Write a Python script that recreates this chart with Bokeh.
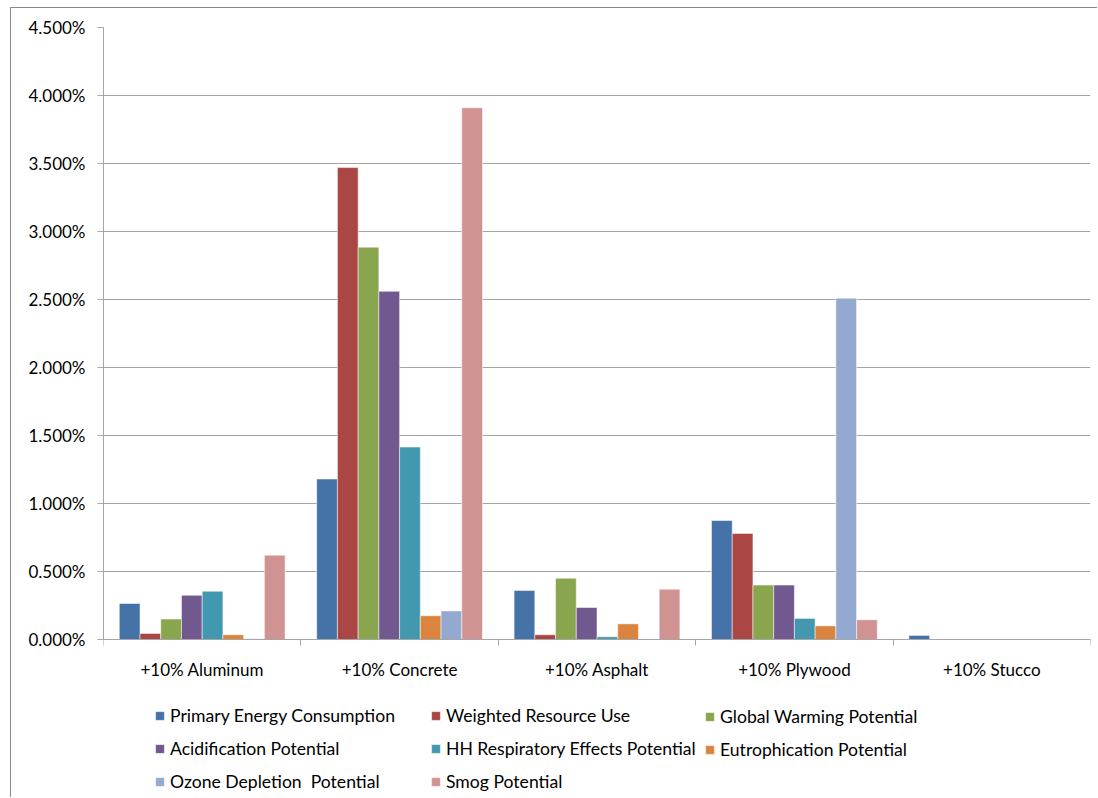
from bokeh.plotting import figure
from bokeh.models import (Range1d, LinearAxis, FixedTicker, Legend, LegendItem,
                          PrintfTickFormatter, ColumnDataSource)
from bokeh.transform import dodge
from bokeh.embed import file_html
from bokeh.resources import INLINE

# Change in each impact indicator (%) when the amount of a material is raised by 10%
categories = ["+10% Aluminum", "+10% Concrete", "+10% Asphalt", "+10% Plywood", "+10% Stucco"]

primary_energy = [0.265, 1.180, 0.360, 0.875, 0.030]
weighted_resource = [0.045, 3.470, 0.035, 0.780, 0.0]
global_warming = [0.150, 2.885, 0.450, 0.400, 0.0]
acidification = [0.325, 2.560, 0.235, 0.400, 0.0]
hh_respiratory = [0.355, 1.415, 0.020, 0.155, 0.0]
eutrophication = [0.035, 0.175, 0.115, 0.100, 0.0]
ozone_depletion = [0.005, 0.210, 0.0, 2.510, 0.0]
smog = [0.620, 3.910, 0.370, 0.145, 0.0]

series_names = ["Primary Energy Consumption", "Weighted Resource Use", "Global Warming Potential",
                "Acidification Potential", "HH Respiratory Effects Potential", "Eutrophication Potential",
                "Ozone Depletion  Potential", "Smog Potential"]
series_values = [primary_energy, weighted_resource, global_warming, acidification,
                 hh_respiratory, eutrophication, ozone_depletion, smog]
series_colors = ["#4572A7", "#AA4643", "#89A54E", "#71588F", "#4198AF", "#DB843D", "#93A9CF", "#D19392"]

y_ticks = [0, 0.5, 1.0, 1.5, 2.0, 2.5, 3.0, 3.5, 4.0, 4.5]

FONT = "Lato"
TEXT_SIZE = "17px"
LEGEND_SIZE = "17.6px"
GRID = "#a6a6a6"

n_cat = len(categories)
centers = [i + 0.5 for i in range(n_cat)]   # each category occupies one unit on the x scale
source = ColumnDataSource(dict(x=centers, **{f"s{i}": v for i, v in enumerate(series_values)}))

# The frame runs to the bottom of the canvas; the part below zero holds the
# category labels and the legend (159 px under a 612 px tall value area).
y_max = 4.5
y_min = -y_max * 159 / 612

p = figure(x_range=Range1d(0, n_cat), y_range=Range1d(y_min, y_max),
           width=1087, height=790, output_backend="svg", toolbar_location=None,
           x_axis_location=None, min_border_left=92, min_border_right=8,
           min_border_top=19, min_border_bottom=0)
p.styles = {"margin-left": "10px", "margin-top": "7px",
            "border-left": "1px solid #8a8a8a", "border-top": "1px solid #8a8a8a"}
p.outline_line_color = None
p.background_fill_color = "white"
p.border_fill_color = "white"

bar_w = 0.105
n = len(series_values)
renderers = []
for i, (name, color) in enumerate(zip(series_names, series_colors)):
    offset = (i - (n - 1) / 2) * bar_w
    r = p.vbar(x=dodge("x", offset), top=f"s{i}", width=bar_w, source=source,
               fill_color=color, line_color="white", line_alpha=0.5, line_width=1)
    renderers.append(r)

# y axis
yax = p.yaxis[0]
yax.ticker = FixedTicker(ticks=y_ticks)
yax.bounds = (0, y_max)
yax.formatter = PrintfTickFormatter(format="%.3f%%")
yax.axis_line_color = GRID
yax.major_tick_line_color = GRID
yax.major_tick_out = 6
yax.major_tick_in = 0
yax.minor_tick_line_color = None
yax.major_label_standoff = 12
yax.major_label_text_font = FONT
yax.major_label_text_font_size = TEXT_SIZE
yax.major_label_text_color = "#000000"

p.ygrid.ticker = FixedTicker(ticks=y_ticks)
p.ygrid.grid_line_color = GRID
p.xgrid.grid_line_color = None

# baseline with tick marks at the category boundaries
bounds = list(range(n_cat + 1))
bound_axis = LinearAxis(fixed_location=0, ticker=FixedTicker(ticks=bounds),
                        axis_line_color=GRID, major_tick_line_color=GRID, major_tick_out=6,
                        major_tick_in=0, minor_tick_line_color=None,
                        major_label_text_font_size="0px", major_label_standoff=0)
bound_axis.major_label_overrides = {b: "" for b in bounds}
p.add_layout(bound_axis, "below")

# category names centred under each group
cat_axis = LinearAxis(fixed_location=0, ticker=FixedTicker(ticks=centers), axis_line_color=None,
                      major_tick_line_color=None, minor_tick_line_color=None,
                      major_tick_out=0, major_tick_in=0,
                      major_label_text_font=FONT, major_label_text_font_size=TEXT_SIZE,
                      major_label_text_color="#000000", major_label_standoff=19)
cat_axis.major_label_overrides = {c: name for c, name in zip(centers, categories)}
p.add_layout(cat_axis, "below")

# legend in three columns under the category names
columns = [[0, 3, 6], [1, 4, 7], [2, 5]]
col_x = [51, 327, 601]
for cols, x in zip(columns, col_x):
    items = [LegendItem(label=series_names[k], renderers=[renderers[k]]) for k in cols]
    rows = len(cols)
    h = rows * 20 + (rows - 1) * 12.5
    leg = Legend(items=items, location=(x, 91 - h), orientation="vertical",
                 glyph_width=11, glyph_height=11, label_height=20, spacing=12,
                 label_standoff=5, padding=0, margin=0, border_line_color=None,
                 background_fill_alpha=0, label_text_font=FONT, label_text_font_size=LEGEND_SIZE,
                 label_text_color="#000000")
    p.add_layout(leg, "center")

open("out.html", "w").write(file_html(p, INLINE))
